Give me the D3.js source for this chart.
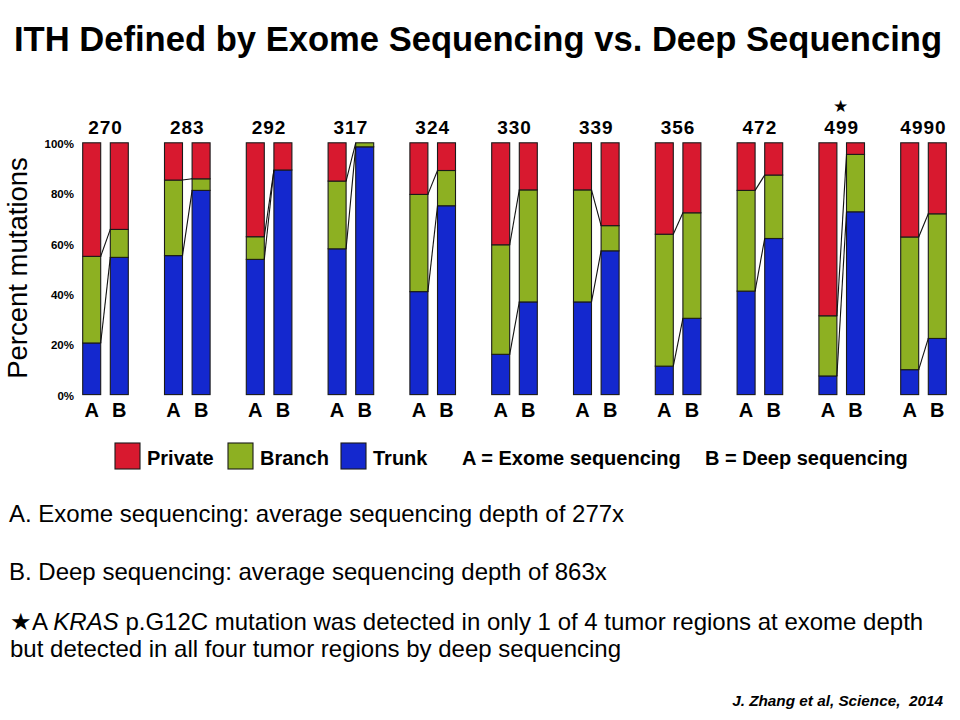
<!DOCTYPE html>
<html>
<head>
<meta charset="utf-8">
<script src="https://cdn.jsdelivr.net/npm/d3@7"></script>
<style>
  html, body { margin: 0; padding: 0; background: #fff; }
  svg { display: block; font-family: "Liberation Sans", Arial, sans-serif; }
</style>
</head>
<body>
<svg id="chart" width="960" height="720"></svg>
<script>
// ---- data ----
const groups = ["270","283","292","317","324","330","339","356","472","499","4990"];
const samples = ["A","B"];
const keys = ["Trunk","Branch","Private"];
const trunkA   = [20.5, 55.2, 53.7, 57.9, 40.9, 16.0, 36.8, 11.3, 41.1,  7.4,  9.9];
const branchA  = [34.4, 30.0,  9.0, 26.9, 38.6, 43.5, 44.5, 52.4, 40.0, 23.9, 52.7];
const privateA = [45.1, 14.8, 37.3, 15.2, 20.5, 40.5, 18.7, 36.3, 18.9, 68.7, 37.4];
const trunkB   = [54.5, 81.1, 89.2, 98.4, 75.0, 36.8, 57.1, 30.3, 62.0, 72.6, 22.3];
const branchB  = [11.1,  4.6,  0.0,  1.6, 14.0, 44.5, 10.0, 41.9, 25.2, 22.8, 49.5];
const privateB = [34.4, 14.3, 10.8,  0.0, 11.0, 18.7, 32.9, 27.8, 12.8,  4.6, 28.2];
const yTicks = [0, 20, 40, 60, 80, 100];
const starredGroup = "499";
const legendLabels = ["Private","Branch","Trunk"];
const title = "ITH Defined by Exome Sequencing vs. Deep Sequencing";
const yTitle = "Percent mutations";
const legendNotes = ["A = Exome sequencing", "B = Deep sequencing"];
const noteA = "A. Exome sequencing: average sequencing depth of 277x";
const noteB = "B. Deep sequencing: average sequencing depth of 863x";
const citation = "J. Zhang et al, Science,  2014";

const colors = { Private: "#D8192F", Branch: "#8DB022", Trunk: "#1428CE" };

// ---- build rows ----
const rows = [];
groups.forEach((g, i) => {
  rows.push({ group: g, sample: "A", Trunk: trunkA[i], Branch: branchA[i], Private: privateA[i] });
  rows.push({ group: g, sample: "B", Trunk: trunkB[i], Branch: branchB[i], Private: privateB[i] });
});
const stacked = d3.stack().keys(keys)(rows);

const svg = d3.select("#chart");

// ---- scales ----
const x0 = d3.scaleBand().domain(groups).range([64.6, 964.4]).paddingInner(0.325).paddingOuter(0.1625);
const x1 = d3.scaleBand().domain(samples).range([0, x0.bandwidth()]).paddingInner(0.348).paddingOuter(0.174);
const y = d3.scaleLinear().domain([0, 100]).range([394.6, 142.8]);
const xBar = d => x0(d.group) + x1(d.sample);

// ---- title ----
svg.append("text").attr("x", 478).attr("y", 51).attr("text-anchor", "middle")
  .style("font-weight", "bold").style("font-size", "34.6px").text(title);

// ---- bars ----
const layer = svg.append("g").selectAll("g").data(stacked).join("g")
  .attr("fill", s => colors[s.key]);
layer.selectAll("rect").data(s => s.map(v => ({ v, d: v.data }))).join("rect")
  .attr("x", o => xBar(o.d))
  .attr("width", x1.bandwidth())
  .attr("y", o => y(o.v[1]))
  .attr("height", o => Math.max(0, y(o.v[0]) - y(o.v[1])))
  .attr("stroke", "#1a1a1a").attr("stroke-width", 1.1);

// ---- connectors ----
const conn = [];
groups.forEach(g => {
  const rA = rows.find(r => r.group === g && r.sample === "A");
  const rB = rows.find(r => r.group === g && r.sample === "B");
  conn.push({ g, a: rA.Trunk, b: rB.Trunk });
  conn.push({ g, a: rA.Trunk + rA.Branch, b: rB.Trunk + rB.Branch });
});
svg.append("g").selectAll("line").data(conn).join("line")
  .attr("x1", c => x0(c.g) + x1("A") + x1.bandwidth())
  .attr("x2", c => x0(c.g) + x1("B"))
  .attr("y1", c => y(c.a)).attr("y2", c => y(c.b))
  .attr("stroke", "#111").attr("stroke-width", 1.1);

// ---- group labels ----
svg.append("g").selectAll("text").data(groups).join("text")
  .attr("x", g => x0(g) + x0.bandwidth() / 2).attr("y", 133.5)
  .attr("text-anchor", "middle").style("font-weight", "bold").style("font-size", "19px")
  .style("letter-spacing", "1px")
  .text(g => g);

svg.append("text")
  .attr("x", x0(starredGroup) + x0.bandwidth() / 2 - 1).attr("y", 112)
  .attr("text-anchor", "middle").style("font-size", "17px").text("★");

// ---- sample labels ----
const abData = [];
groups.forEach(g => samples.forEach(s => abData.push({ group: g, sample: s })));
svg.append("g").selectAll("text").data(abData).join("text")
  .attr("x", d => xBar(d) + x1.bandwidth() / 2).attr("y", 416.5)
  .attr("text-anchor", "middle").style("font-weight", "bold").style("font-size", "20px")
  .text(d => d.sample);

// ---- y axis ----
const yAxis = d3.axisLeft(y).tickValues(yTicks).tickSize(0).tickPadding(0)
  .tickFormat(d => d + "%");
const ag = svg.append("g").attr("transform", "translate(74,1)").call(yAxis);
ag.select(".domain").remove();
ag.selectAll("text").style("font-weight", "bold").style("font-size", "11.5px")
  .style("font-family", "'Liberation Sans', Arial, sans-serif").attr("fill", "#000");

svg.append("text").attr("transform", "translate(27,268) rotate(-90)")
  .attr("text-anchor", "middle").style("font-size", "27.5px").text(yTitle);

// ---- legend ----
const legX = [115, 228, 341];
const lg = svg.append("g").selectAll("g").data(legendLabels).join("g")
  .attr("transform", (d, i) => `translate(${legX[i]},443)`);
lg.append("rect").attr("width", 25).attr("height", 26)
  .attr("fill", d => colors[d]).attr("stroke", "#1a1a1a").attr("stroke-width", 1.1);
lg.append("text").attr("x", 32).attr("y", 21.5)
  .style("font-weight", "bold").style("font-size", "20px").text(d => d);
svg.append("g").selectAll("text").data(legendNotes).join("text")
  .attr("x", (d, i) => [462, 705][i]).attr("y", 464.5)
  .style("font-weight", "bold").style("font-size", "20px").text(d => d);

// ---- notes ----
svg.append("text").attr("x", 9).attr("y", 522).style("font-size", "24px").text(noteA);
svg.append("text").attr("x", 9).attr("y", 580).style("font-size", "24px").text(noteB);
const star = svg.append("text").attr("x", 10).attr("y", 630).style("font-size", "24px");
star.append("tspan").text("★A ");
star.append("tspan").style("font-style", "italic").text("KRAS");
star.append("tspan").text(" p.G12C mutation was detected in only 1 of 4 tumor regions at exome depth");
svg.append("text").attr("x", 10).attr("y", 656.5).style("font-size", "24px")
  .text("but detected in all four tumor regions by deep sequencing");

svg.append("text").attr("x", 943).attr("y", 706).attr("text-anchor", "end")
  .style("font-weight", "bold").style("font-style", "italic").style("font-size", "15.3px")
  .style("white-space", "pre")
  .text(citation);
</script>
</body>
</html>
